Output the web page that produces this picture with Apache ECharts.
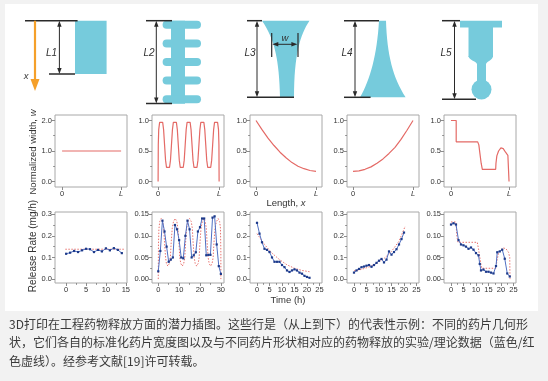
<!DOCTYPE html>
<html><head><meta charset="utf-8">
<script src="https://cdn.jsdelivr.net/npm/echarts@6/dist/echarts.min.js"></script>
<style>
html,body{margin:0;padding:0;background:#f2f2f2;}
#panel{position:absolute;left:5px;top:4px;width:533px;height:307px;background:#fff;}
#c{position:absolute;left:0;top:0;width:548px;height:381px;}
</style>
</head><body><div id="panel"></div><div id="c"></div>
<script>
// ---------- Row 2: normalized width profiles (x in units of L) ----------
const width1 = [[0,1],[1,1]];
const width2 = [[0,0],[0.003,0.6],[0.01,0.85],[0.025,0.97],[0.05,1.0],[0.075,0.97],[0.09,0.85],
  [0.106,0.6],[0.122,0.35],[0.138,0.23],[0.1625,0.2],[0.187,0.23],[0.203,0.35],
  [0.219,0.6],[0.235,0.85],[0.25,0.97],[0.275,1.0],[0.3,0.97],[0.315,0.85],
  [0.331,0.6],[0.347,0.35],[0.363,0.23],[0.3875,0.2],[0.412,0.23],[0.428,0.35],
  [0.444,0.6],[0.46,0.85],[0.475,0.97],[0.5,1.0],[0.525,0.97],[0.54,0.85],
  [0.556,0.6],[0.572,0.35],[0.588,0.23],[0.6125,0.2],[0.637,0.23],[0.653,0.35],
  [0.669,0.6],[0.685,0.85],[0.7,0.97],[0.725,1.0],[0.75,0.97],[0.765,0.85],
  [0.781,0.6],[0.797,0.35],[0.813,0.23],[0.8375,0.2],[0.862,0.23],[0.878,0.35],
  [0.894,0.6],[0.91,0.85],[0.925,0.97],[0.95,1.0],[0.975,0.97],[0.99,0.85],[0.997,0.6],[1.0,0]];
const width3 = [[0,1.0],[0.1,0.85],[0.2,0.71],[0.3,0.59],[0.4,0.48],[0.5,0.39],[0.6,0.31],[0.7,0.25],[0.8,0.21],[0.9,0.18],[1.0,0.165]];
const width4 = [[0,0.165],[0.1,0.175],[0.2,0.2],[0.3,0.24],[0.4,0.3],[0.5,0.37],[0.6,0.46],[0.7,0.56],[0.8,0.69],[0.9,0.84],[1.0,1.0]];
const width5 = [[0,1],[0.09,1],[0.09,0.65],[0.46,0.65],[0.48,0.6],[0.5,0.45],[0.52,0.3],[0.54,0.2],[0.77,0.2],[0.775,0.3],[0.79,0.42],[0.82,0.5],[0.86,0.55],[0.9,0.54],[0.94,0.48],[0.98,0.43],[0.99,0.42],[1.0,0]];

// ---------- Row 3: release rate (time h, mg/h) ----------
const rate1Exp = [[0,0.117],[1,0.122],[2,0.13],[3,0.125],[4,0.133],[5,0.14],[6,0.138],[7,0.125],[8,0.135],[9,0.128],[10,0.142],[11,0.133],[12,0.143],[13,0.135],[14,0.12]];
const rate1Th = [[-0.2,0.138],[14.5,0.138]];
const rate2Exp = [[0,0.018],[1,0.065],[2,0.135],[3,0.11],[4,0.075],[5,0.04],[6,0.045],[7,0.05],[8,0.125],[9,0.115],[10,0.09],[11,0.05],[12,0.048],[13,0.1],[14,0.135],[15,0.115],[16,0.05],[17,0.055],[18,0.062],[19,0.11],[20,0.12],[21,0.14],[22,0.14],[23,0.055],[24,0.056],[25,0.056],[26,0.142],[27,0.145],[28,0.08],[29,0.03],[30,0.012]];
const rate2Th = [[0,0],[0.1,0.08],[0.3,0.115],[0.7,0.133],[1.4,0.14],[2.1,0.133],[2.6,0.118],[3.0,0.085],[3.5,0.05],[3.9,0.036],[4.6,0.03],[5.3,0.036],[5.8,0.05],[6.2,0.085],[6.7,0.118],[7.3,0.133],[8.1,0.14],[8.9,0.133],[9.4,0.118],[9.9,0.085],[10.3,0.05],[10.8,0.036],[11.5,0.03],[12.2,0.036],[12.7,0.05],[13.1,0.085],[13.6,0.118],[14.2,0.133],[15.0,0.14],[15.8,0.133],[16.3,0.118],[16.7,0.085],[17.2,0.05],[17.7,0.036],[18.4,0.03],[19.1,0.036],[19.6,0.05],[20.0,0.085],[20.5,0.118],[21.1,0.133],[21.8,0.14],[22.5,0.133],[23.0,0.118],[23.4,0.085],[23.9,0.05],[24.4,0.036],[25.1,0.03],[25.8,0.036],[26.3,0.05],[26.7,0.085],[27.2,0.118],[27.9,0.133],[28.7,0.14],[29.4,0.133],[29.8,0.118],[30,0.06],[30,0]];
const rate3Exp = [[0,0.26],[1,0.21],[2,0.17],[3,0.14],[4,0.135],[5,0.125],[6,0.1],[7,0.08],[8,0.08],[9,0.08],[10,0.065],[11,0.055],[12,0.04],[13,0.033],[14,0.04],[15,0.045],[16,0.04],[17,0.03],[18,0.025],[19,0.015],[20,0.01],[21,0.006]];
const rate3Th = [[0,0.21],[3,0.16],[6,0.12],[9,0.09],[12,0.066],[15,0.05],[18,0.04],[21,0.034]];
const rate4Exp = [[0,0.03],[1,0.04],[2,0.047],[3,0.055],[4,0.058],[5,0.062],[6,0.065],[7,0.057],[8,0.065],[9,0.075],[10,0.085],[11,0.093],[12,0.077],[13,0.09],[14,0.128],[15,0.113],[16,0.125],[17,0.138],[18,0.16],[19,0.185],[20,0.215]];
const rate4Th = [[0,0.038],[3,0.045],[6,0.056],[9,0.072],[12,0.095],[15,0.128],[18,0.175],[20.5,0.245]];
const rate5Exp = [[0,0.126],[1,0.129],[2,0.126],[3,0.09],[4,0.08],[5,0.078],[6,0.075],[7,0.07],[8,0.073],[9,0.068],[10,0.06],[11,0.055],[11.5,0.035],[12,0.02],[13,0.022],[14,0.017],[15,0.017],[16,0.015],[17,0.013],[18,0.03],[18.5,0.062],[19.5,0.064],[20.5,0.068],[21.5,0.047],[22.5,0.013],[23.5,0.006]];
const rate5Th = [[0,0.132],[2,0.132],[2.3,0.1],[2.8,0.085],[10.5,0.085],[11,0.07],[11.8,0.04],[12.3,0.025],[18,0.025],[18.3,0.04],[19,0.06],[20,0.068],[21,0.072],[22,0.07],[23,0.062],[23.5,0.05],[23.6,0]];

// ---------- tick labels ----------
const widthTicksA = [0,1,2], widthMinorA = [0.5,1.5];
const widthTicksB = [0,0.5,1], widthMinorB = [0.25,0.75];
const lengthTicks = [0,1];
const rateTicksA = [0,0.1,0.2,0.3], rateMinorA = [0.05,0.15,0.25];
const rateTicksB = [0,0.05,0.1,0.15], rateMinorB = [0.025,0.075,0.125];
const timeTicks15 = [0,5,10,15], timeMinor15 = [2.5,7.5,12.5];
const timeTicks30 = [0,10,20,30], timeMinor30 = [5,15,25];
const timeTicks25 = [0,5,10,15,20,25], timeMinor25 = [2.5,7.5,12.5,17.5,22.5];

const FONT = 'Liberation Sans, Arial, sans-serif';
const RED = '#e46a66', BLUE_LINE = '#4f6fc2', BLUE_PT = '#1d3a8a', AX = '#8c8c8c', TXT = '#333';
const cols = [55,152,250,347,444];
const PW = 72;

const grids = [], xAxes = [], yAxes = [], series = [];
const noLine = {show:false, onZero:false};
function panel(left, top, h, xr, yr, xt, xm, yt, ym, xfmt, yfmt){
  const g = grids.length;
  grids.push({left:left, top:top, width:PW, height:h, show:true, borderColor:'#a8a8a8', borderWidth:1, backgroundColor:'transparent'});
  const xi = xAxes.length, yi = yAxes.length;
  const lab = {fontSize:7.5, color:TXT, fontFamily:FONT, margin:3, formatter:xfmt, customValues:xt, rich:{i:{fontStyle:'italic', fontSize:7.5, fontFamily:FONT, color:TXT}}};
  xAxes.push({type:'value', gridIndex:g, position:'bottom', min:xr[0], max:xr[1], axisLine:noLine, splitLine:{show:false},
    axisTick:{show:true, length:3, lineStyle:{color:AX}, customValues:xt}, axisLabel:lab});
  xAxes.push({type:'value', gridIndex:g, position:'bottom', min:xr[0], max:xr[1], axisLine:noLine, splitLine:{show:false},
    axisTick:{show:xm.length>0, length:1.8, lineStyle:{color:AX}, customValues:xm.length?xm:[xr[0]]}, axisLabel:{show:false}});
  yAxes.push({type:'value', gridIndex:g, position:'left', min:yr[0], max:yr[1], axisLine:noLine, splitLine:{show:false},
    axisTick:{show:true, length:3, lineStyle:{color:AX}, customValues:yt},
    axisLabel:{fontSize:7.5, color:TXT, fontFamily:FONT, margin:3, formatter:yfmt, customValues:yt}});
  yAxes.push({type:'value', gridIndex:g, position:'left', min:yr[0], max:yr[1], axisLine:noLine, splitLine:{show:false},
    axisTick:{show:true, length:1.8, lineStyle:{color:AX}, customValues:ym}, axisLabel:{show:false}});
  return {x:xi, y:yi};
}
const fL = v => v === 0 ? '0' : '{i|L}';
const f1 = v => v.toFixed(1), f2 = v => v.toFixed(2), f0 = v => String(v);

function widthLine(ax, data){
  series.push({type:'line', xAxisIndex:ax.x, yAxisIndex:ax.y, data:data, showSymbol:false, symbol:'none', smooth:false,
    lineStyle:{color:RED, width:1.2}, animation:false});
}
function rateLines(ax, exp, th){
  series.push({type:'line', xAxisIndex:ax.x, yAxisIndex:ax.y, data:th, symbol:'none', smooth:false,
    lineStyle:{color:'#e87470', width:1, type:[1.5,1.5]}, animation:false, z:2});
  series.push({type:'line', xAxisIndex:ax.x, yAxisIndex:ax.y, data:exp, symbol:'rect', symbolSize:2.2, showSymbol:true,
    lineStyle:{color:BLUE_LINE, width:1}, itemStyle:{color:BLUE_PT}, animation:false, z:3});
}

// row 2
const R2T = 115, R2H = 72, R3T = 212, R3H = 71;
widthLine(panel(cols[0], R2T, R2H, [-0.12,1.1], [-0.18,2.18], lengthTicks, [], widthTicksA, widthMinorA, fL, f1), width1);
widthLine(panel(cols[1], R2T, R2H, [-0.1,1.08], [-0.09,1.09], lengthTicks, [], widthTicksB, widthMinorB, fL, f1), width2);
widthLine(panel(cols[2], R2T, R2H, [-0.1,1.1], [-0.09,1.09], lengthTicks, [], widthTicksB, widthMinorB, fL, f1), width3);
widthLine(panel(cols[3], R2T, R2H, [-0.1,1.1], [-0.09,1.09], lengthTicks, [], widthTicksB, widthMinorB, fL, f1), width4);
widthLine(panel(cols[4], R2T, R2H, [-0.12,1.12], [-0.09,1.09], lengthTicks, [], widthTicksB, widthMinorB, fL, f1), width5);
// row 3
rateLines(panel(cols[0], R3T, R3H, [-2.8,15.3], [-0.018,0.31], timeTicks15, timeMinor15, rateTicksA, rateMinorA, f0, f1), rate1Exp, rate1Th);
rateLines(panel(cols[1], R3T, R3H, [-3,31.5], [-0.009,0.155], timeTicks30, timeMinor30, rateTicksB, rateMinorB, f0, f2), rate2Exp, rate2Th);
rateLines(panel(cols[2], R3T, R3H, [-2.8,26], [-0.018,0.31], timeTicks25, timeMinor25, rateTicksA, rateMinorA, f0, f1), rate3Exp, rate3Th);
rateLines(panel(cols[3], R3T, R3H, [-2.8,26], [-0.018,0.31], timeTicks25, timeMinor25, rateTicksA, rateMinorA, f0, f1), rate4Exp, rate4Th);
rateLines(panel(cols[4], R3T, R3H, [-2.8,26], [-0.009,0.155], timeTicks25, timeMinor25, rateTicksB, rateMinorB, f0, f2), rate5Exp, rate5Th);

// ---------- illustrations (row 1) ----------
const CY = '#76cbdc', BK = '#2a2a2a';
const G = [];
function bez(p0,p1,p2,p3,n){
  const out = [];
  for (let k = 0; k <= n; k++){
    const t = k/n, u = 1-t;
    out.push([u*u*u*p0[0]+3*u*u*t*p1[0]+3*u*t*t*p2[0]+t*t*t*p3[0], u*u*u*p0[1]+3*u*u*t*p1[1]+3*u*t*t*p2[1]+t*t*t*p3[1]]);
  }
  return out;
}
function hline(x1,x2,y){ G.push({type:'line', shape:{x1:x1,y1:y,x2:x2,y2:y}, style:{stroke:BK, lineWidth:1.5}}); }
function varrow(x,y1,y2){
  G.push({type:'line', shape:{x1:x,y1:y1+3,x2:x,y2:y2-3}, style:{stroke:BK, lineWidth:1}});
  G.push({type:'polygon', shape:{points:[[x,y1],[x-2.2,y1+6],[x+2.2,y1+6]]}, style:{fill:BK}});
  G.push({type:'polygon', shape:{points:[[x,y2],[x-2.2,y2-6],[x+2.2,y2-6]]}, style:{fill:BK}});
}
function harrow(y,x1,x2){
  G.push({type:'line', shape:{x1:x1+3,y1:y,x2:x2-3,y2:y}, style:{stroke:BK, lineWidth:1}});
  G.push({type:'polygon', shape:{points:[[x1,y],[x1+6,y-2.2],[x1+6,y+2.2]]}, style:{fill:BK}});
  G.push({type:'polygon', shape:{points:[[x2,y],[x2-6,y-2.2],[x2-6,y+2.2]]}, style:{fill:BK}});
}
function label(x,y,t,size){
  G.push({type:'text', x:x, y:y, style:{text:t, fontSize:size||10, fontStyle:'italic', fontFamily:FONT, fill:TXT, align:'center', verticalAlign:'middle'}});
}
// shape 1
G.push({type:'rect', shape:{x:75,y:20.7,width:31.6,height:53.3}, style:{fill:CY}});
hline(25,77.6,20.7); hline(49,75,74);
varrow(59.4,20.7,74);
label(51.5,53,'L1');
G.push({type:'line', shape:{x1:35,y1:20.7,x2:35,y2:80}, style:{stroke:'#f5a02a', lineWidth:2.2}});
G.push({type:'polygon', shape:{points:[[35,91],[30.5,79],[39.5,79]]}, style:{fill:'#f5a02a'}});
label(26,76,'x',9.5);
// shape 2
G.push({type:'rect', shape:{x:171,y:20.7,width:14,height:83}, style:{fill:CY}});
[24.8,43.4,62,80.6,99.2].forEach(c => G.push({type:'rect', shape:{x:162.6,y:c-4,width:38.4,height:8,r:4}, style:{fill:CY}}));
hline(146,172,20.7); hline(146,172,103.5);
varrow(156.3,20.7,103.5);
label(149,53,'L2');
// shape 3
const s3 = [].concat(bez([262,20.7],[275,40],[279,60],[280,97.3],16), bez([294,97.3],[294,55],[300,35],[309.5,20.7],16));
G.push({type:'polygon', shape:{points:s3}, style:{fill:CY}});
hline(247,262,20.7); hline(247,294,97.3);
varrow(257,20.7,97.3);
label(250,53,'L3');
G.push({type:'line', shape:{x1:271.7,y1:33,x2:271.7,y2:57}, style:{stroke:BK, lineWidth:1.2}});
G.push({type:'line', shape:{x1:298,y1:33,x2:298,y2:57}, style:{stroke:BK, lineWidth:1.2}});
harrow(44.3,272.3,297.4);
label(285,38.5,'w',9.5);
// shape 4
const s4 = [].concat(bez([379,20.7],[377,55],[370,80],[360,97.3],16), bez([405.6,97.3],[393,78],[387,55],[386,20.7],16));
G.push({type:'polygon', shape:{points:s4}, style:{fill:CY}});
hline(344,379,20.7); hline(344,370.6,97.3);
varrow(355,20.7,97.3);
label(347,53,'L4');
// shape 5
G.push({type:'rect', shape:{x:460,y:20.7,width:42,height:6.8}, style:{fill:CY}});
G.push({type:'rect', shape:{x:468.5,y:27,width:24.5,height:30}, style:{fill:CY}});
const s5 = [].concat(bez([468.5,56],[468.5,60],[476,61],[477,64],8), bez([486,64],[487,61],[493,60],[493,56],8));
G.push({type:'polygon', shape:{points:s5}, style:{fill:CY}});
G.push({type:'rect', shape:{x:477,y:63,width:9,height:22}, style:{fill:CY}});
G.push({type:'circle', shape:{cx:481.5,cy:89.5,r:10}, style:{fill:CY}});
hline(442,460,20.7); hline(442,476,99.3);
varrow(454.5,20.7,99.3);
label(446,53,'L5');

// ---------- axis titles ----------
G.push({type:'text', x:33.5, y:152, rotation:Math.PI/2, style:{text:'Normalized width, {i|w}', fontSize:9.5, fontFamily:FONT, fill:TXT, align:'center', verticalAlign:'middle',
  rich:{i:{fontStyle:'italic', fontSize:9.5, fontFamily:FONT, fill:TXT}}}});
G.push({type:'text', x:33, y:246, rotation:Math.PI/2, style:{text:'Release Rate (mg/h)', fontSize:10, fontFamily:FONT, fill:TXT, align:'center', verticalAlign:'middle'}});
G.push({type:'text', x:286, y:203, style:{text:'Length, {i|x}', fontSize:9.5, fontFamily:FONT, fill:TXT, align:'center', verticalAlign:'middle',
  rich:{i:{fontStyle:'italic', fontSize:9.5, fontFamily:FONT, fill:TXT}}}});
G.push({type:'text', x:288, y:300, style:{text:'Time (h)', fontSize:9.5, fontFamily:FONT, fill:TXT, align:'center', verticalAlign:'middle'}});

// ---------- caption ----------
const captionLines = [
  '3D打印在工程药物释放方面的潜力插图。这些行是（从上到下）的代表性示例：不同的药片几何形',
  '状，它们各自的标准化药片宽度图以及与不同药片形状相对应的药物释放的实验/理论数据（蓝色/红',
  '色虚线）。经参考文献[19]许可转载。'
];
captionLines.forEach((t,k) => G.push({type:'text', x:9, y:324.5 + k*18.3, style:{text:t, fontSize:12, fontFamily:'Noto Sans CJK SC, sans-serif', fill:'#3a3a3a', align:'left', verticalAlign:'middle'}}));

const chart = echarts.init(document.getElementById('c'), null, {renderer:'canvas'});
chart.setOption({
  backgroundColor:'transparent',
  animation:false,
  grid:grids, xAxis:xAxes, yAxis:yAxes, series:series,
  graphic:{elements:G}
});
</script></body></html>
